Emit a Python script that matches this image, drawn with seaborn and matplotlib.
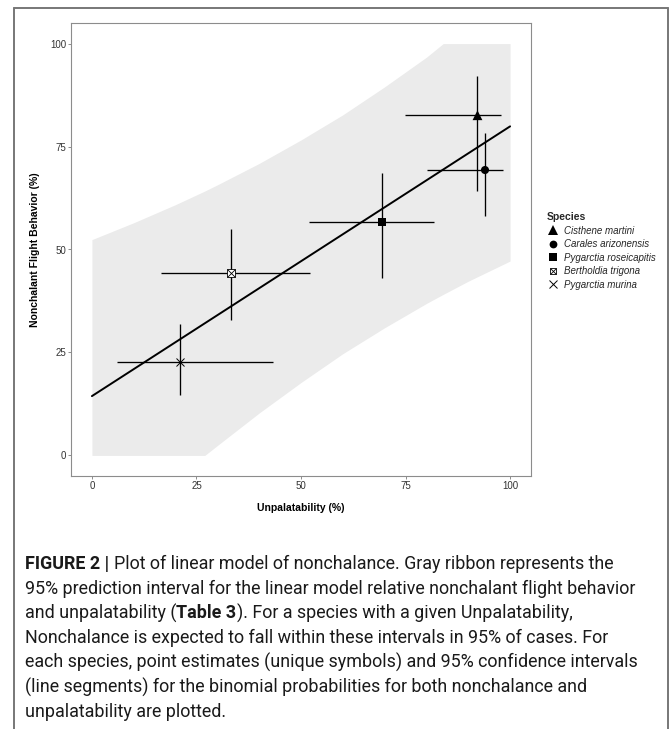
import numpy as np
import pandas as pd
import matplotlib
matplotlib.use("Agg")
import matplotlib.pyplot as plt
import seaborn as sns
from matplotlib.lines import Line2D
from matplotlib.legend_handler import HandlerTuple

# ---------------- data ----------------
species = ["Cisthene martini", "Carales arizonensis", "Pygarctia roseicapitis",
           "Bertholdia trigona", "Pygarctia murina"]
unpal = [92.2, 94.0, 69.4, 33.3, 21.0]
unpal_lo = [74.8, 80.2, 51.9, 16.5, 6.1]
unpal_hi = [97.8, 98.3, 81.9, 52.1, 43.3]
nonch = [82.6, 69.3, 56.7, 44.2, 22.6]
nonch_lo = [64.1, 58.2, 43.0, 33.0, 14.6]
nonch_hi = [92.2, 78.2, 68.6, 55.0, 31.8]

fit_x = [0, 100]
fit_y = [14.4, 79.9]

ribbon_x = [0, 10, 20, 27, 30, 40, 50, 60, 70, 80, 84, 90, 100]
ribbon_lo = [0, 0, 0, 0, 2.4, 10.3, 17.7, 24.7, 31.0, 36.9, 39.1, 42.3, 47.2]
ribbon_hi = [52.4, 56.5, 60.9, 64.2, 65.7, 70.9, 76.6, 82.7, 89.5, 96.7, 100, 100, 100]

ticks = [0, 25, 50, 75, 100]
x_title = "Unpalatability (%)"
y_title = "Nonchalant Flight Behavior (%)"
legend_title = "Species"

caption_lines = [
    [("FIGURE 2 |", True), ("Plot of linear model of nonchalance. Gray ribbon represents the", False)],
    [("95% prediction interval for the linear model relative nonchalant flight behavior", False)],
    [("and unpalatability (", False), ("Table 3", True), ("). For a species with a given Unpalatability,", False)],
    [("Nonchalance is expected to fall within these intervals in 95% of cases. For", False)],
    [("each species, point estimates (unique symbols) and 95% confidence intervals", False)],
    [("(line segments) for the binomial probabilities for both nonchalance and", False)],
    [("unpalatability are plotted.", False)],
]

# ---------------- style ----------------
sns.set_theme(style="white")
plt.rcParams['font.family'] = ['Liberation Sans', 'DejaVu Sans']

W, H = 669, 729
fig = plt.figure(figsize=(W / 100, H / 100), dpi=100)
fig.patch.set_facecolor("white")


def fx(px):
    return px / W


def fy(py):
    return 1 - py / H


# panel
pl, pr, pt, pb = 71, 531, 23, 476
ax = fig.add_axes([fx(pl), fy(pb), (pr - pl) / W, (pb - pt) / H])
ax.set_facecolor("white")
ax.set_xlim(-5, 105)
ax.set_ylim(-5, 105)

ax.fill_between(ribbon_x, ribbon_lo, ribbon_hi, color="#ebebeb", lw=0, zorder=1)

df_fit = pd.DataFrame({"x": fit_x, "y": fit_y})
sns.lineplot(data=df_fit, x="x", y="y", color="black", lw=1.4, ax=ax, zorder=3)

ax.hlines(nonch, unpal_lo, unpal_hi, color="black", lw=0.95, zorder=4)
ax.vlines(unpal, nonch_lo, nonch_hi, color="black", lw=0.95, zorder=4)

df = pd.DataFrame({"species": species, "unpal": unpal, "nonch": nonch})
filled = df.iloc[:3]
sns.scatterplot(data=filled, x="unpal", y="nonch", style="species",
                markers={species[0]: "^", species[1]: "o", species[2]: "s"},
                s=[50, 34, 32], color="black", edgecolor="black", linewidth=0,
                legend=False, ax=ax, zorder=5)
# boxed cross
ax.plot(df.unpal[3], df.nonch[3], marker="s", ms=5.4, mfc="white", mec="black",
        mew=0.6, ls="none", zorder=5)
ax.plot(df.unpal[3], df.nonch[3], marker="x", ms=5.4, mec="black",
        mew=0.6, ls="none", zorder=6)
ax.plot(df.unpal[4], df.nonch[4], marker="x", ms=6.2, mec="black",
        mew=0.7, ls="none", zorder=6)

# axes cosmetics
for sp in ax.spines.values():
    sp.set_color("#8c8c8c")
    sp.set_linewidth(0.8)
ax.set_xticks(ticks)
ax.set_yticks(ticks)
ax.tick_params(axis="both", direction="out", length=2.2, width=0.7,
               color="#8c8c8c", labelsize=7, labelcolor="#333333", pad=1.2,
               bottom=True, left=True)
ax.set_xlabel(x_title, fontsize=7.5, fontweight="bold", color="black")
ax.set_ylabel(y_title, fontsize=7.5, fontweight="bold", color="black")
ax.xaxis.set_label_coords(0.5, -(508 - pb) / (pb - pt))
ax.xaxis.label.set_va("center")
ax.yaxis.set_label_coords(-(pl - 35) / (pr - pl), 0.5)
ax.yaxis.label.set_va("center")

# legend
h_tri = Line2D([], [], marker="^", ms=6.5, color="black", ls="none", mew=0)
h_cir = Line2D([], [], marker="o", ms=5.6, color="black", ls="none", mew=0)
h_sq = Line2D([], [], marker="s", ms=5.2, color="black", ls="none", mew=0)
h_bx1 = Line2D([], [], marker="s", ms=5.0, mfc="white", mec="black", mew=0.6, ls="none")
h_bx2 = Line2D([], [], marker="x", ms=5.0, mec="black", mew=0.6, ls="none")
h_x = Line2D([], [], marker="x", ms=6.2, mec="black", mew=0.7, ls="none")
leg = fig.legend([h_tri, h_cir, h_sq, (h_bx1, h_bx2), h_x], species,
                 handler_map={tuple: HandlerTuple(ndivide=1)},
                 title=legend_title, loc="center left",
                 bbox_to_anchor=(fx(540), fy(251)), frameon=False,
                 prop={"size": 7, "style": "italic"},
                 title_fontproperties={"size": 7.5, "weight": "bold"},
                 handlelength=1.2, handletextpad=0.6, labelspacing=0.35,
                 borderpad=0.2, alignment="left")

# outer figure frame
frame_c = "#777777"
fig.add_artist(Line2D([fx(14), fx(14)], [fy(8), fy(735)], color=frame_c, lw=1.4))
fig.add_artist(Line2D([fx(14), fx(668)], [fy(8), fy(8)], color=frame_c, lw=1.4))
fig.add_artist(Line2D([fx(668), fx(668)], [fy(8), fy(735)], color=frame_c, lw=1.4))

# caption
renderer = fig.canvas.get_renderer()
cap_family = ["Roboto", "DejaVu Sans"]
cap_weight = "normal"


def text_w(s, fs, weight):
    t = fig.text(0, 0, s, fontsize=fs, fontweight=weight, family=cap_family)
    w = t.get_window_extent(renderer).width
    t.remove()
    return w


ref_fs = 12.0
w_line2 = text_w(caption_lines[1][0][0], ref_fs, cap_weight)
target_w = 637 - 25
cap_fs = ref_fs * target_w / w_line2
space_w = text_w("a a", cap_fs, cap_weight) - text_w("aa", cap_fs, cap_weight)

x0 = 25
y0 = 564
dy = 24.7
for i, line in enumerate(caption_lines):
    x = x0
    for j, (txt, bold) in enumerate(line):
        if j > 0 and line[j - 1][0].endswith("|"):
            x += space_w
        t = fig.text(fx(x), fy(y0 + i * dy), txt, fontsize=cap_fs,
                     fontweight="bold" if bold else cap_weight, family=cap_family,
                     va="center", ha="left", color="#1a1a1a")
        x += t.get_window_extent(renderer).width

fig.savefig("out.png", dpi=100, facecolor="white")
